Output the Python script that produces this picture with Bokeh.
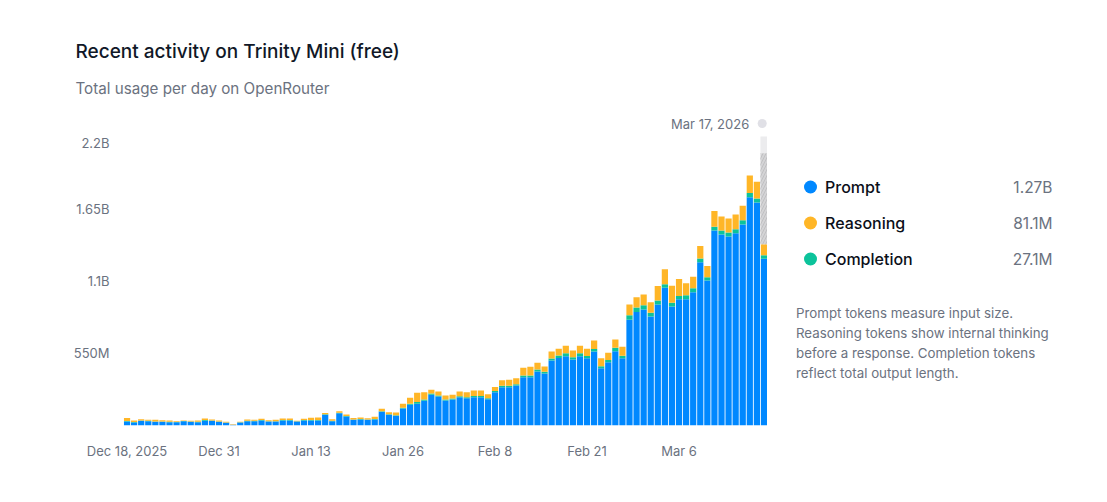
from bokeh.plotting import figure
from bokeh.models import ColumnDataSource, FixedTicker, Label, Range1d, Title
from bokeh.layouts import row
from bokeh.core.properties import value
from bokeh.embed import file_html
from bokeh.resources import INLINE
import numpy as np

# Token counts per day, in millions
prompt = [30, 23, 36, 33, 28, 28, 25, 25, 33, 28, 25, 36, 36, 28, 21, 5, 23, 33, 33, 38,
          30, 30, 38, 38, 30, 38, 38, 38, 81, 33, 94, 69, 43, 46, 43, 46, 104, 81, 74, 129,
          158, 165, 188, 234, 221, 190, 198, 215, 208, 215, 215, 200, 253, 292, 292, 304, 368, 368, 411, 396,
          495, 514, 528, 502, 528, 512, 563, 436, 482, 566, 512, 805, 864, 883, 830, 921, 1048, 906, 961, 961,
          1015, 1242, 1104, 1484, 1454, 1439, 1464, 1530, 1738, 1698, 1270]
completion = [4, 3, 3, 3, 3, 3, 3, 2, 2, 2, 3, 5, 3, 3, 2, 1, 2, 3, 3, 3,
              2, 3, 3, 3, 2, 3, 3, 3, 4, 3, 4, 4, 3, 3, 3, 3, 5, 4, 4, 6,
              8, 14, 10, 9, 8, 7, 8, 8, 8, 9, 9, 8, 9, 11, 11, 11, 13, 13, 16, 14,
              16, 18, 22, 18, 22, 18, 20, 16, 16, 26, 19, 35, 35, 33, 28, 30, 28, 28, 24, 30,
              30, 30, 25, 30, 30, 30, 30, 33, 33, 30, 27.1]
reasoning = [24, 12, 8, 8, 12, 9, 10, 6, 4, 6, 10, 12, 7, 7, 5, 4, 3, 10, 7, 10,
             8, 10, 12, 12, 4, 10, 18, 20, 11, 12, 11, 11, 12, 12, 9, 17, 18, 16, 21, 30,
             45, 70, 56, 29, 30, 31, 28, 36, 38, 42, 42, 30, 32, 42, 45, 45, 58, 66, 50, 39,
             52, 52, 57, 51, 57, 54, 64, 60, 56, 63, 68, 81, 78, 81, 81, 112, 114, 130, 131, 92,
             87, 94, 85, 120, 107, 107, 112, 110, 132, 128, 81.1]
days = list(range(len(prompt)))

# Last day is not finished yet, the hatched part is what is expected for it
expected_total = 2073

y_ticks = [550, 1100, 1650, 2200]
y_tick_labels = ["550M", "1.1B", "1.65B", "2.2B"]
# the top label sits a bit lower than its gridline in the original
y_tick_positions = [550, 1100, 1650, 2147]
x_ticks = [0, 13, 26, 39, 52, 65, 78]
x_tick_labels = ["Dec 18, 2025", "Dec 31", "Jan 13", "Jan 26", "Feb 8", "Feb 21", "Mar 6"]

legend_names = ["Prompt", "Reasoning", "Completion"]
legend_values = ["1.27B", "81.1M", "27.1M"]
legend_colors = ["#0088ff", "#ffb627", "#0cc39b"]
description = ["Prompt tokens measure input size.",
               "Reasoning tokens show internal thinking",
               "before a response. Completion tokens",
               "reflect total output length."]

GRAY = "#6b7280"
FONT = "Inter"
FONT_MEDIUM = "'Inter Medium', Inter"

source = ColumnDataSource(data=dict(day=days, prompt=prompt, completion=completion, reasoning=reasoning))

p = figure(width=767, height=494, output_backend="svg", toolbar_location=None,
           x_range=Range1d(-0.5, 90.5), y_range=Range1d(0, 2383),
           min_border_left=123, min_border_right=0, min_border_top=112, min_border_bottom=69)
p.outline_line_color = None
p.grid.visible = False
p.background_fill_color = None

# the gray column behind the last day
last = days[-1]
last_total = prompt[-1] + completion[-1] + reasoning[-1]
p.vbar(x=[last], width=1, bottom=[expected_total], top=[y_ticks[-1]],
       fill_color="#ececee", line_color=None)
p.vbar(x=[last], width=1, bottom=[last_total], top=[expected_total],
       fill_color="#d4d4d6", line_color=None, hatch_pattern="right_diagonal_line",
       hatch_color="#c0c0c2", hatch_scale=6, hatch_weight=1)

p.vbar_stack(["prompt", "completion", "reasoning"], x="day", width=0.88,
             color=[legend_colors[0], legend_colors[2], legend_colors[1]],
             line_color=None, source=source)

# date marker on top of the last day
p.scatter(x=[last - 0.25], y=[2299], size=9, fill_color="#e0e0e6", line_color=None)
p.add_layout(Label(x=last - 0.25, y=2299, x_offset=-13, text="Mar 17, 2026", text_font=FONT,
                   text_font_size="13px", text_color=GRAY, text_align="right", text_baseline="middle"))

p.yaxis.ticker = FixedTicker(ticks=y_tick_positions)
p.yaxis.major_label_overrides = dict(zip(y_tick_positions, y_tick_labels))
p.xaxis.ticker = FixedTicker(ticks=x_ticks)
p.xaxis.major_label_overrides = dict(zip(x_ticks, x_tick_labels))
for ax in (p.xaxis, p.yaxis):
    ax.axis_line_color = None
    ax.major_tick_line_color = None
    ax.minor_tick_line_color = None
    ax.major_label_text_font = FONT
    ax.major_label_text_color = GRAY
p.yaxis.major_label_text_font_size = "13px"
p.xaxis.major_label_text_font_size = "13px"
p.yaxis.major_label_standoff = 8
p.xaxis.major_label_standoff = 11

# heading, the one added last goes on top
p.add_layout(Title(text="Total usage per day on OpenRouter", text_font=FONT, text_font_size="15.2px",
                   text_font_style="normal", text_color=GRAY, align="left", offset=-48, standoff=29), "above")
p.add_layout(Title(text="Recent activity on Trinity Mini (free)", text_font=FONT_MEDIUM, text_font_size="19px",
                   text_font_style="normal", text_color="#111827", align="left", offset=-48, standoff=0), "above")

# legend and note on the right, its plot area lines up with the chart's so the y axis runs 425 to 112
side = figure(width=332, height=494, output_backend="svg", toolbar_location=None,
              x_range=Range1d(767, 1099), y_range=Range1d(425, 112),
              min_border_left=0, min_border_right=0, min_border_top=112, min_border_bottom=69)
side.outline_line_color = None
side.grid.visible = False
side.axis.visible = False

legend_y = [186.5, 222.5, 258.5]
side.scatter(x=[810] * 3, y=legend_y, size=13, fill_color=legend_colors, line_color=None)
side.text(x=[824.5] * 3, y=legend_y, text=legend_names, text_font=value(FONT_MEDIUM), text_font_size="16px",
          text_color="#0b0f19", text_baseline="middle")
side.text(x=[1052] * 3, y=legend_y, text=legend_values, text_font=value(FONT), text_font_size="15.5px",
          text_color=GRAY, text_align="right", text_baseline="middle")
side.text(x=[795.5] * 4, y=[312.5, 332.5, 352.5, 372.5], text=description, text_font=value(FONT),
          text_font_size="13.3px", text_color=GRAY, text_baseline="middle")

page = row(p, side)
open("out.html", "w").write(file_html(page, INLINE))
